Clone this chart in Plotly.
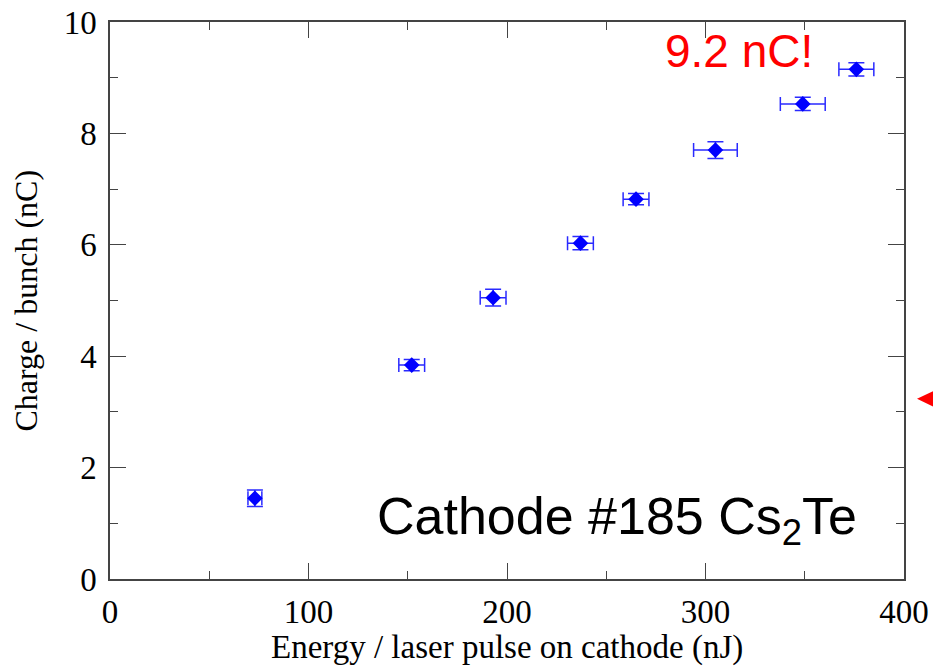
import plotly.graph_objects as go

# Data
energy_nJ = [73, 152, 193, 237, 265, 305, 349, 376]
charge_nC = [1.45, 3.84, 5.05, 6.03, 6.82, 7.70, 8.53, 9.15]
energy_err = [3.5, 6.5, 6.5, 6.5, 6.5, 11.0, 11.3, 8.8]
charge_err = [0.15, 0.10, 0.15, 0.12, 0.10, 0.15, 0.12, 0.12]

x_ticks = [0, 100, 200, 300, 400]
y_ticks = [0, 2, 4, 6, 8, 10]

x_title = "Energy / laser pulse on cathode (nJ)"
y_title = "Charge / bunch (nC)"

BLUE = "#0000ff"
ERR = "#2a2aff"
AXC = "#444444"
SERIF = "Liberation Serif, Times New Roman, serif"
SANS = "Liberation Sans, Arial, sans-serif"

fig = go.Figure()
fig.add_trace(go.Scatter(
    x=energy_nJ, y=charge_nC, mode="markers",
    marker=dict(symbol="diamond", size=12, color=BLUE, line=dict(width=0)),
    error_x=dict(type="data", array=energy_err, visible=True, color=ERR, thickness=1.5, width=7),
    error_y=dict(type="data", array=charge_err, visible=True, color=ERR, thickness=1.5, width=8),
    showlegend=False,
))

axis_common = dict(
    showgrid=False, zeroline=False, showline=True, linecolor=AXC, linewidth=1.5,
    mirror="ticks", ticks="inside", ticklen=16, tickwidth=1.2, tickcolor=AXC,
    tickfont=dict(family=SERIF, size=33, color="black"),
    minor=dict(ticks="inside", ticklen=8, tickwidth=1.2, tickcolor=AXC),
    automargin=False,
)

fig.update_xaxes(
    range=[0, 400], tickvals=x_ticks, ticktext=[str(v) for v in x_ticks],
    minor_dtick=50, ticklabelstandoff=3,
    **axis_common,
)
fig.update_yaxes(
    range=[0, 10], tickvals=y_ticks, ticktext=[str(v) for v in y_ticks],
    minor_dtick=1, ticklabelstandoff=5,
    **axis_common,
)

# axis titles
fig.add_annotation(x=0.5, y=-0.123, xref="paper", yref="paper", text=x_title, showarrow=False,
                   xanchor="center", yanchor="middle", font=dict(family=SERIF, size=33, color="black"))
fig.add_annotation(x=-0.107, y=0.5, xref="paper", yref="paper", text=y_title, showarrow=False,
                   textangle=-90, xanchor="center", yanchor="middle",
                   font=dict(family=SERIF, size=32, color="black"))

fig.add_annotation(x=278.8, y=9.48, xref="x", yref="y", text="9.2 nC!", showarrow=False,
                   xanchor="left", yanchor="middle", font=dict(family=SANS, size=46, color="#ff0000"))
fig.add_annotation(x=133.3, y=1.06, xref="x", yref="y", text="Cathode #185 Cs<sub>2</sub>Te", showarrow=False,
                   xanchor="left", yanchor="middle", font=dict(family=SANS, size=52, color="black"))

# partially visible red arrowhead at the right edge
fig.add_shape(type="path", xref="paper", yref="paper",
              path="M 1.0164 0.3235 L 1.045 0.343 L 1.045 0.304 Z",
              fillcolor="#ff0000", line=dict(width=0))

fig.update_layout(
    width=933, height=666,
    margin=dict(l=110, r=29, t=22, b=87),
    paper_bgcolor="white", plot_bgcolor="white",
)

fig.write_html("out.html")
